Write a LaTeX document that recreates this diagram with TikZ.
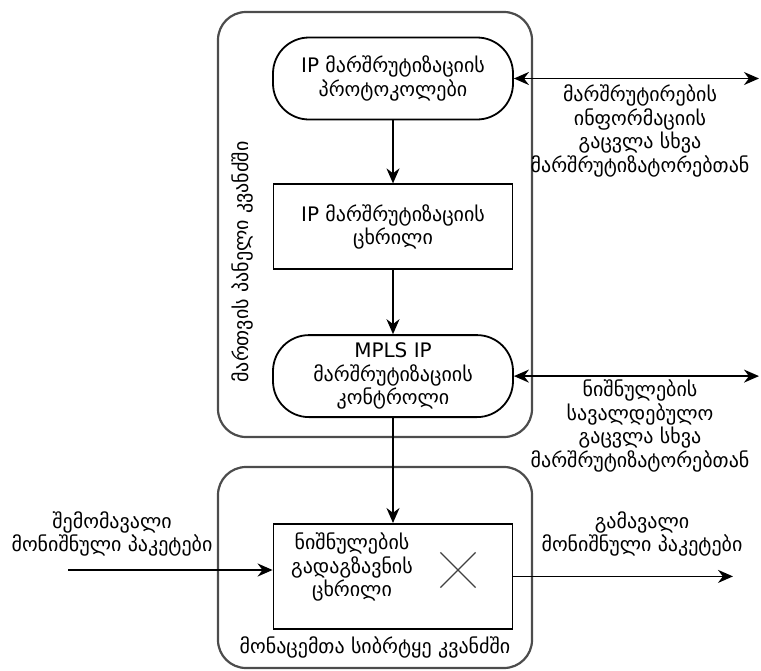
\documentclass[tikz,border=0pt]{standalone}
\usepackage{fontspec}
\setmainfont{DejaVu Sans}
\usepackage{tikz}
\usetikzlibrary{positioning}
\usetikzlibrary{arrows.meta}
\usetikzlibrary{shapes}
\tikzset{plane box/.style={rectangle,draw=black!70,line width=2.2pt,rounded corners=28pt},
  round node/.style={rectangle,draw,rounded corners=36pt,minimum width=240pt,minimum height=82pt,align=center,inner sep=2pt},
  table node/.style={rectangle,draw,minimum width=239pt,minimum height=85pt,align=center,inner sep=2pt},
  side text/.style={align=center,inner sep=0pt},}

\begin{document}
\begin{tikzpicture}[x=1pt,y=-1pt,>={Stealth[length=15pt,width=13pt]},node distance=63pt,line width=1.8pt,font=\fontsize{20}{23.5}\selectfont]
	\useasboundingbox (0,0) rectangle (761,670);
	% planes
	\node[plane box, minimum width=314pt, minimum height=425pt] (ctrl) at (375,224.5) {};
	\node[plane box, minimum width=314pt, minimum height=201pt] (data) at (375,567.5) {};
	\node[rotate=90] (ctrllbl) at (242,262) {მართვის პანელი კვანძში};
	\node (datalbl) at (375,647) {მონაცემთა სიბრტყე კვანძში};

	% blocks
	\node[round node] (proto) at (393,78.5) {IP მარშრუტიზაციის\\პროტოკოლები};
	\node[table node] (iptab) [below = of proto] {IP მარშრუტიზაციის\\ცხრილი};
	\node[round node] (mpls) [below = 64pt of iptab] {MPLS IP\\მარშრუტიზაციის\\კონტროლი};
	\node[table node, minimum height=105pt] (lfib) [below = 105pt of mpls] {};
	\node[align=center] (lfibtxt) at (352,567) {ნიშნულების\\გადაგზავნის\\ცხრილი};
	\node[cross out, draw=black!75, line width=1.2pt, minimum size=34pt] (xmark) at (458,570) {};

	% outside
	\coordinate (r1) at (759,78.5);
	\coordinate (r2) at (759,372.5);
	\coordinate (in) at (68,570);
	\coordinate (out) at (733,570);
	\node[side text] (r1lbl) at (640,131) {მარშრუტირების\\ინფორმაციის\\გაცვლა სხვა\\მარშრუტიზატორებთან};
	\node[side text] (r2lbl) at (640,426) {ნიშნულების\\სავალდებულო\\გაცვლა სხვა\\მარშრუტიზატორებთან};
	\node[side text] (inlbl) at (112,534) {შემომავალი\\მონიშნული პაკეტები};
	\node[side text] (outlbl) at (642,534) {გამავალი\\მონიშნული პაკეტები};

	\draw[->] (proto) -- (iptab);
	\draw[->] (iptab) -- (mpls);
	\draw[->] (mpls) -- (lfib);
	\draw[<->] (proto.east) -- (proto.east -| r1);
	\draw[<->] (mpls.east) -- (mpls.east -| r2);
	\draw[->] (in) -- (in -| lfib.west);
	\draw[->] (lfib.east) -- (lfib.east -| out);
\end{tikzpicture}
\end{document}
